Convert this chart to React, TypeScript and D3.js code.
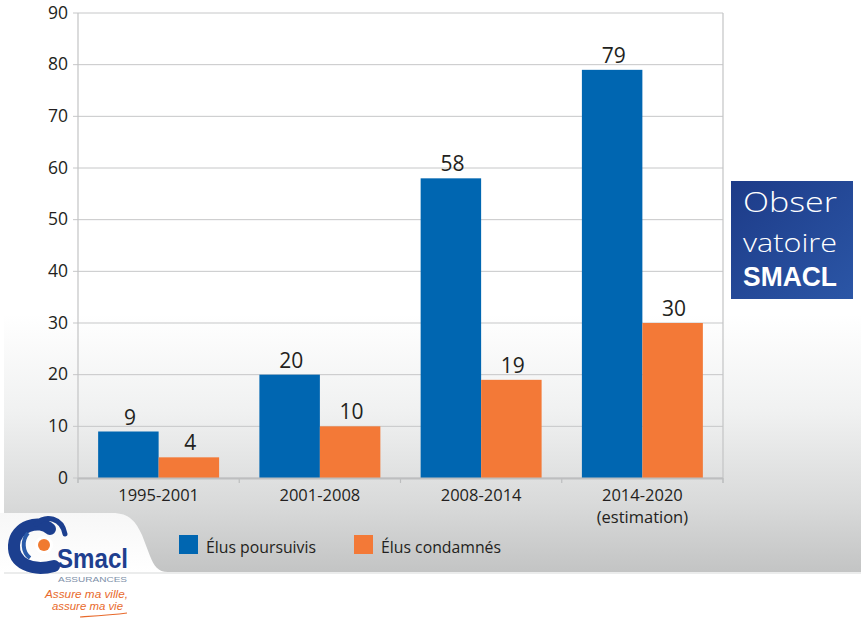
import React from "react";
import * as d3 from "d3";

const categories = ["1995-2001", "2001-2008", "2008-2014", "2014-2020"];
const categorySub = ["", "", "", "(estimation)"];
const seriesNames = ["Élus poursuivis", "Élus condamnés"];
const poursuivis = [9, 20, 58, 79];
const condamnes = [4, 10, 19, 30];
const yTickValues = [0, 10, 20, 30, 40, 50, 60, 70, 80, 90];

const COLORS = ["#0066b1", "#f37937"];
const FONT = "'Open Sans', 'Noto Sans', sans-serif";
const LIB = "'Liberation Sans', Arial, sans-serif";
const TEXT = "#231f20";

export default function App() {
  const W = 861, H = 623;
  const left = 78, right = 723, top = 13, bottom = 478;

  const x0 = d3.scaleBand<string>().domain(categories).range([left, right]).padding(0);
  const x1 = d3
    .scaleBand<string>()
    .domain(seriesNames)
    .range([0, x0.bandwidth()])
    .paddingInner(0)
    .paddingOuter(0.333);
  const y = d3.scaleLinear().domain([0, 90]).range([bottom, top]);

  const series = [poursuivis, condamnes];
  const boundaries = categories.map((c) => x0(c)!).concat([right]);

  return (
    <svg width={W} height={H} style={{ display: "block", position: "absolute", left: 0, top: 0 }}>
      <defs>
        <linearGradient id="bgGrad" x1="0" y1="0" x2="0" y2="1">
          <stop offset="0" stopColor="#ffffff" />
          <stop offset="0.55" stopColor="#ffffff" />
          <stop offset="0.72" stopColor="#f0f1f1" />
          <stop offset="0.88" stopColor="#d9dada" />
          <stop offset="1" stopColor="#c3c4c4" />
        </linearGradient>
        <linearGradient id="notchGrad" x1="0" y1="0" x2="0" y2="1">
          <stop offset="0" stopColor="#f7f7f7" />
          <stop offset="1" stopColor="#ffffff" />
        </linearGradient>
        <linearGradient id="obsGrad" x1="0" y1="0" x2="1" y2="1">
          <stop offset="0" stopColor="#1d3b88" />
          <stop offset="1" stopColor="#2b56a6" />
        </linearGradient>
      </defs>

      <rect x={0} y={0} width={W} height={H} fill="#ffffff" />
      <rect x={4} y={0} width={W - 4} height={572} fill="url(#bgGrad)" />
      <line x1={4} x2={W} y1={573} y2={573} stroke="#e4e6e6" strokeWidth={1.5} />
      {/* white notch bottom-left */}
      <path
        d="M0,513 L112,513 C130,513 136,522 142,535 L150,556 C154,566 158,572 168,572 L0,572 Z"
        fill="url(#notchGrad)"
      />

      {/* gridlines */}
      {yTickValues.map((v) => (
        <line key={"g" + v} x1={left - 5} x2={right} y1={y(v)} y2={y(v)} stroke="#c6c7c8" strokeWidth={1} />
      ))}
      <line x1={left} x2={left} y1={top} y2={bottom + 5} stroke="#c3c4c5" strokeWidth={1.2} />
      <line x1={right} x2={right} y1={top} y2={bottom + 5} stroke="#c3c4c5" strokeWidth={1.2} />

      {/* bars */}
      {categories.map((c, i) =>
        seriesNames.map((s, j) => {
          const v = series[j][i];
          const bx = x0(c)! + x1(s)!;
          return (
            <rect key={c + s} x={bx} y={y(v)} width={x1.bandwidth()} height={y(0) - y(v)} fill={COLORS[j]} />
          );
        })
      )}

      {/* x axis line */}
      <line x1={left} x2={right} y1={bottom + 0.5} y2={bottom + 0.5} stroke="#bdbebf" strokeWidth={2} />
      {boundaries.map((bx, i) => (
        <line key={"t" + i} x1={bx} x2={bx} y1={bottom} y2={bottom + 5} stroke="#bdbebf" strokeWidth={1.2} />
      ))}

      {/* value labels */}
      {categories.map((c, i) =>
        seriesNames.map((s, j) => {
          const v = series[j][i];
          const cx = x0(c)! + x1(s)! + x1.bandwidth() / 2 + 1.5;
          return (
            <text key={"v" + c + s} x={cx} y={y(v) - 7} textAnchor="middle" fontFamily={FONT} fontSize={21} fill={TEXT}>
              {v}
            </text>
          );
        })
      )}

      {/* y tick labels */}
      {yTickValues.map((v) => (
        <text key={"y" + v} x={68} y={y(v) + 5.5} textAnchor="end" fontFamily={FONT} fontSize={17.5} fill={TEXT}>
          {v}
        </text>
      ))}

      {/* x labels */}
      {categories.map((c, i) => (
        <g key={"x" + c}>
          <text x={x0(c)! + x0.bandwidth() / 2} y={501} textAnchor="middle" fontFamily={FONT} fontSize={16.5} fill={TEXT}>
            {c}
          </text>
          {categorySub[i] && (
            <text x={x0(c)! + x0.bandwidth() / 2} y={523} textAnchor="middle" fontFamily={FONT} fontSize={16.5} fill={TEXT}>
              {categorySub[i]}
            </text>
          )}
        </g>
      ))}

      {/* legend */}
      {seriesNames.map((s, j) => {
        const lx = j === 0 ? 179 : 354;
        return (
          <g key={"l" + s}>
            <rect x={lx} y={535} width={19} height={19} fill={COLORS[j]} />
            <text x={lx + 27} y={553} fontFamily={FONT} fontSize={15.8} fill={TEXT}>
              {s}
            </text>
          </g>
        );
      })}

      {/* Observatoire SMACL logo */}
      <rect x={731} y={181} width={122} height={118} fill="url(#obsGrad)" />
      <text x={743} y={212} fontFamily={FONT} fontWeight={300} fontSize={28} fill="#ffffff" textLength={94} lengthAdjust="spacingAndGlyphs">
        Obser
      </text>
      <text x={743} y={252} fontFamily={FONT} fontWeight={300} fontSize={26} fill="#ffffff" textLength={94} lengthAdjust="spacingAndGlyphs">
        vatoire
      </text>
      <text x={743} y={286} fontFamily={LIB} fontWeight={700} fontSize={28} fill="#ffffff" textLength={94} lengthAdjust="spacingAndGlyphs">
        SMACL
      </text>

      {/* Smacl Assurances logo */}
      <g>
        <path d="M50,529 C40,519 15,526 14,545 C13,563 32,572 54,566" fill="none" stroke="#1c3f8f" strokeWidth={12} strokeLinecap="round" />
        <path d="M36,524 C46,514 62,518 65,534" fill="none" stroke="#1c3f8f" strokeWidth={5} strokeLinecap="round" />
        <path d="M28,533 C22,540 22,552 30,558" fill="none" stroke="#2a5aa8" strokeWidth={4} />
        <circle cx={44} cy={545} r={9} fill="#ffffff" />
        <circle cx={44} cy={545} r={6} fill="#f07a30" />
        <text x={57} y={568} fontFamily={LIB} fontWeight={700} fontSize={28} fill="#1f3f8f" textLength={71} lengthAdjust="spacingAndGlyphs">
          Smacl
        </text>
        <text x={58} y={582} fontFamily={LIB} fontSize={8} fill="#7d8fa8" textLength={69} lengthAdjust="spacingAndGlyphs">
          ASSURANCES
        </text>
        <text x={45} y={597.5} fontFamily={LIB} fontStyle="italic" fontSize={10.5} fill="#e86a2c" textLength={83} lengthAdjust="spacingAndGlyphs">
          Assure ma ville,
        </text>
        <text x={52} y={610} fontFamily={LIB} fontStyle="italic" fontSize={10.5} fill="#e86a2c" textLength={71} lengthAdjust="spacingAndGlyphs">
          assure ma vie
        </text>
        <path d="M80,617 C95,616 112,615 127,613" fill="none" stroke="#e86a2c" strokeWidth={1.2} />
      </g>
    </svg>
  );
}
